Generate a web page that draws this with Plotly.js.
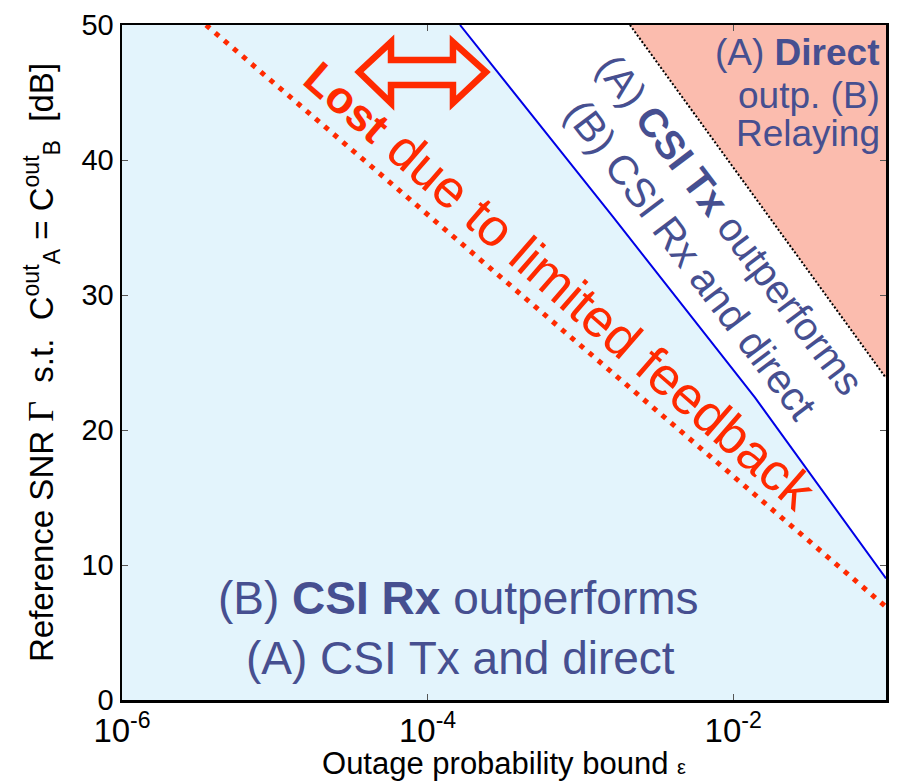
<!DOCTYPE html>
<html>
<head>
<meta charset="utf-8">
<script src="https://cdn.plot.ly/plotly-3.0.1.min.js"></script>
<style>html,body{margin:0;padding:0;background:#fff}</style>
</head>
<body>
<div id="chart" style="width:900px;height:781px"></div>
<script>
// Axis extents
const xRange = [1e-6, 1e-1];
const yRange = [0, 50];

// Boundary: CSI Rx vs CSI Tx (solid blue)
const rxTxEps = [1.63e-4, 1.63e-3, 1.39e-2, 1e-1];
const rxTxSNR = [50, 35.8, 22.4, 9.0];

// Limited feedback boundary (red dotted)
const fbEps = [3.55e-6, 1e-1];
const fbSNR = [50, 6.9];

// Direct vs relaying boundary (black dotted)
const dirEps = [2.11e-3, 1e-1];
const dirSNR = [50, 23.85];

// Tick labels
const xTickVals = [1e-6, 1e-4, 1e-2];
const xTickText = ['10<sup>-6</sup>', '10<sup>-4</sup>', '10<sup>-2</sup>'];
const yTickVals = [0, 10, 20, 30, 40, 50];

const txtBlue = '#464f90';
const red = '#ff2a00';

const traces = [
  { // light-blue region below blue boundary
    x: [xRange[0]].concat(rxTxEps, [xRange[1]]),
    y: [yRange[1]].concat(rxTxSNR, [yRange[0]]),
    mode: 'lines', line: {width: 0}, fill: 'tozeroy', fillcolor: '#e3f4fc',
    hoverinfo: 'skip', showlegend: false
  },
  { // salmon region above black dotted boundary
    x: dirEps.concat([xRange[1]]),
    y: dirSNR.concat([yRange[1]]),
    mode: 'lines', line: {width: 0}, fill: 'toself', fillcolor: '#fbbcae',
    hoverinfo: 'skip', showlegend: false
  },
  {
    x: rxTxEps, y: rxTxSNR, mode: 'lines',
    line: {color: '#0000e6', width: 2}, showlegend: false
  },
  {
    x: dirEps, y: dirSNR, mode: 'lines',
    line: {color: '#000000', width: 2, dash: '2px,2px'}, showlegend: false
  },
  {
    x: fbEps, y: fbSNR, mode: 'lines',
    line: {color: red, width: 5, dash: '5px,7px'}, showlegend: false
  }
];

const L = 122, R = 886, T = 25, B = 700;
const px = v => (v - L) / (R - L);
const py = v => (B - v) / (B - T);

function arrowPath() {
  const pts = [[359,72],[391,42],[391,60],[453,60],[453,42],[486,72],[453,103],[453,85],[391,85],[391,103]];
  return 'M ' + pts.map(p => px(p[0]).toFixed(4) + ',' + py(p[1]).toFixed(4)).join(' L ') + ' Z';
}

const F = 'Liberation Sans, Arial, Helvetica, sans-serif';

function note(xp, yp, text, size, color, angle, xanchor) {
  return {xref: 'paper', yref: 'paper', x: px(xp), y: py(yp), showarrow: false,
          text: text, textangle: angle || 0, xanchor: xanchor || 'center', yanchor: 'middle',
          align: xanchor || 'center',
          font: {size: size, color: color, family: F}};
}

const layout = {
  width: 900, height: 781,
  margin: {l: L, r: 900 - R, t: T, b: 781 - B},
  paper_bgcolor: '#ffffff', plot_bgcolor: '#ffffff',
  font: {family: F, color: '#000'},
  xaxis: {
    type: 'log', range: [Math.log10(xRange[0]), Math.log10(xRange[1])],
    tickvals: xTickVals, ticktext: xTickText,
    tickfont: {size: 33},
    ticks: 'inside', ticklen: 6, tickcolor: '#555', mirror: 'ticks',
    showline: true, linecolor: '#000', linewidth: 2.5,
    showgrid: false, zeroline: false,
    title: {text: 'Outage probability bound <span style="font-size:20px">ε</span>',
            font: {size: 31}, standoff: 0}
  },
  yaxis: {
    range: yRange, tickvals: yTickVals,
    tickfont: {size: 29},
    ticks: 'inside', ticklen: 6, tickcolor: '#555', mirror: 'ticks',
    showline: true, linecolor: '#000', linewidth: 2.5,
    showgrid: false, zeroline: false,
    title: {text: 'Reference SNR <span style="font-family:Liberation Serif;font-size:36px">Γ</span>  s.t.  C<sup>out</sup><sub>A</sub> = C<sup>out</sup><sub>B</sub>  [dB]',
            font: {size: 33}, standoff: 18}
  },
  shapes: [
    {type: 'path', xref: 'paper', yref: 'paper', path: arrowPath(),
     line: {color: red, width: 6.5}, fillcolor: 'rgba(0,0,0,0)'}
  ],
  annotations: [
    note(560, 283, '<b><span style="font-size:45px">Lost</span></b> due to limited feedback', 53, red, 41),
    note(730, 224, '(A) <b>CSI Tx</b> outperforms', 40, txtBlue, 53),
    note(691, 260, '(B) CSI Rx and direct', 41, txtBlue, 53),
    note(882, 53, '(A) <b>Direct</b>', 37, txtBlue, 0, 'right'),
    note(882, 96, 'outp. (B)', 37, txtBlue, 0, 'right'),
    note(882, 133, 'Relaying', 37, txtBlue, 0, 'right'),
    note(458, 598, '(B) <b>CSI Rx</b> outperforms', 46, txtBlue),
    note(460, 658, '(A) CSI Tx and direct', 46, txtBlue)
  ]
};

Plotly.newPlot('chart', traces, layout, {displayModeBar: false, staticPlot: true});
</script>
</body>
</html>
